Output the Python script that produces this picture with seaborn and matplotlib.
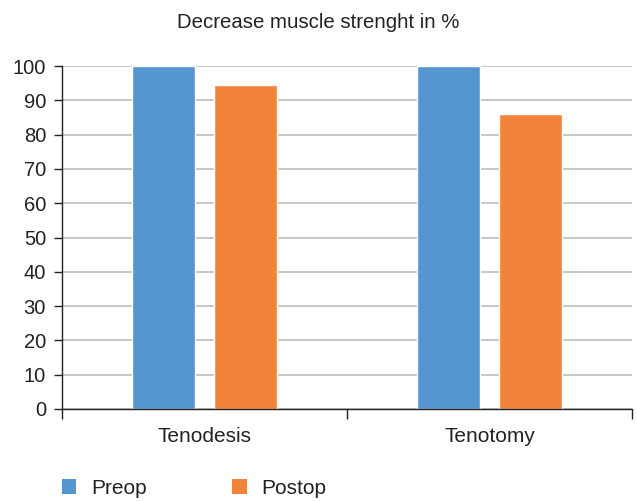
import pandas as pd
import seaborn as sns
import matplotlib.pyplot as plt
from matplotlib.patches import Patch

groups = ["Tenodesis", "Tenotomy"]
series = ["Preop", "Postop"]
preop = [100, 100]
postop = [94.5, 86]
farben = ["#5596d2", "#f3823b"]

df = pd.DataFrame({
    "Gruppe": groups * 2,
    "Serie": ["Preop"] * 2 + ["Postop"] * 2,
    "Wert": preop + postop,
})

sns.set_style("white")
plt.rcParams["font.family"] = ["Liberation Sans", "DejaVu Sans"]

fig = plt.figure(figsize=(6.37, 5.01), dpi=100)
ax = fig.add_axes([62 / 637, 92 / 501, 570 / 637, 343 / 501])

sns.barplot(data=df, x="Gruppe", y="Wert", hue="Serie", hue_order=series,
            palette=farben, width=0.572, gap=0.23, saturation=1,
            ax=ax, legend=False)

ax.set_xlim(-0.5, 1.5)
ax.set_ylim(0, 100)
ax.set_yticks(range(0, 101, 10))
ax.yaxis.grid(True, color="#bdbdbd", linewidth=1.2)
ax.set_axisbelow(True)

# Kategorienamen als minor ticks, Trennstriche als major ticks
ax.set_xticks([-0.5, 0.5, 1.5])
ax.set_xticklabels([])
ax.set_xticks([0, 1], minor=True)
ax.set_xticklabels(groups, minor=True)
ax.tick_params(axis="x", which="major", bottom=True, direction="out", length=7, width=1,
               color="#222222")
ax.tick_params(axis="x", which="minor", bottom=True, length=0, pad=13, labelsize=15,
               labelcolor="#222222")
ax.tick_params(axis="y", left=True, direction="out", length=6, width=1, color="#222222",
               labelsize=14.5, labelcolor="#222222", pad=5.5)

for s in ["top", "right"]:
    ax.spines[s].set_visible(False)
for s in ["left", "bottom"]:
    ax.spines[s].set_color("#222222")
    ax.spines[s].set_linewidth(1)

ax.set_xlabel("")
ax.set_ylabel("")
fig.text(318 / 637, 1 - 22 / 501, "Decrease muscle strenght in %", ha="center", va="center",
         fontsize=14.7, color="#222222")

handles = [Patch(facecolor=c, edgecolor="none") for c in farben]
fig.legend(handles, series, loc="center left", bbox_to_anchor=(43 / 637, 13 / 501),
           ncol=2, frameon=False, fontsize=15, handlelength=0.7, handleheight=0.7,
           handletextpad=0.7, columnspacing=4.1, labelcolor="#222222")

plt.savefig("out.png", dpi=100)
